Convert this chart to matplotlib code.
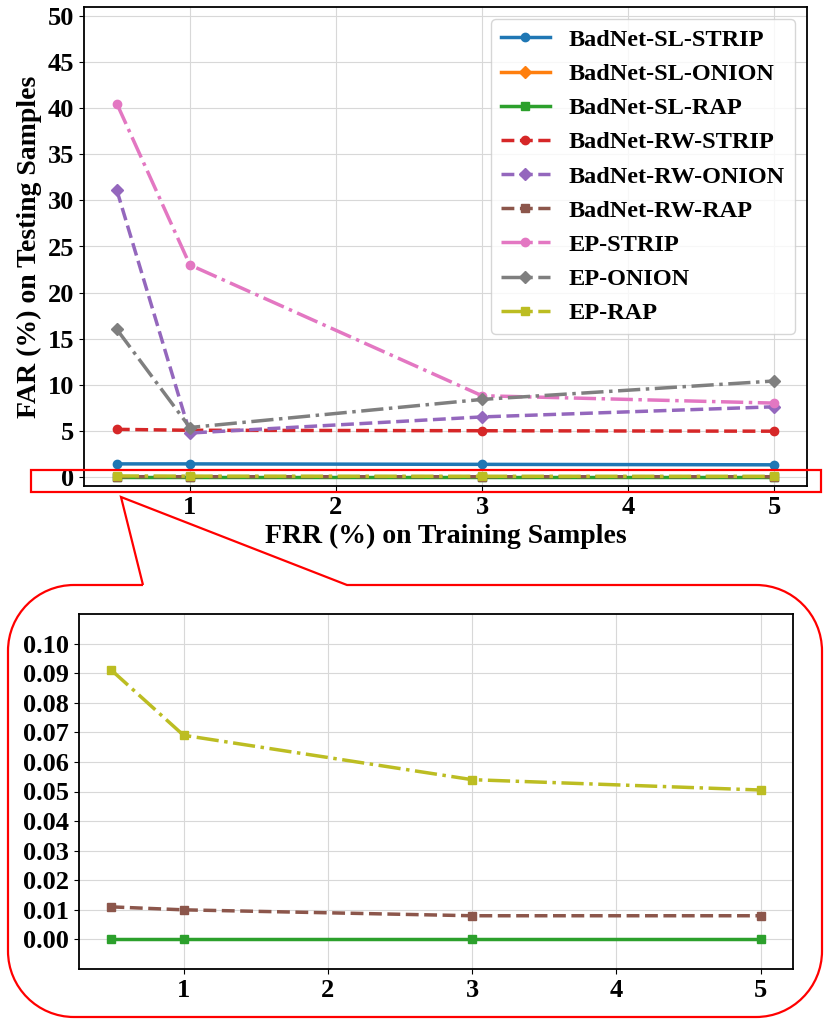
import numpy as np
import matplotlib.pyplot as plt
from matplotlib.path import Path
from matplotlib.patches import PathPatch, Rectangle

plt.rcParams['font.family'] = ['Liberation Serif', 'DejaVu Serif']
plt.rcParams['font.weight'] = 'bold'
plt.rcParams['axes.labelweight'] = 'bold'

# FRR (%) on training samples
frr = [0.5, 1, 3, 5]

# FAR (%) on testing samples
sl_strip = [1.4, 1.4, 1.35, 1.3]
sl_onion = [np.nan, np.nan, np.nan, np.nan]
sl_rap = [0.0, 0.0, 0.0, 0.0]
rw_strip = [5.15, 5.05, 5.0, 4.95]
rw_onion = [31.1, 4.75, 6.5, 7.6]
rw_rap = [0.011, 0.010, 0.008, 0.008]
ep_strip = [40.5, 23.0, 8.8, 8.0]
ep_onion = [16.0, 5.35, 8.4, 10.4]
ep_rap = [0.091, 0.069, 0.054, 0.0505]

series = [
    ('BadNet-SL-STRIP', sl_strip, 'C0', 'o', '-'),
    ('BadNet-SL-ONION', sl_onion, 'C1', 'D', '-'),
    ('BadNet-SL-RAP', sl_rap, 'C2', 's', '-'),
    ('BadNet-RW-STRIP', rw_strip, 'C3', 'o', '--'),
    ('BadNet-RW-ONION', rw_onion, 'C4', 'D', '--'),
    ('BadNet-RW-RAP', rw_rap, 'C5', 's', '--'),
    ('EP-STRIP', ep_strip, 'C6', 'o', '-.'),
    ('EP-ONION', ep_onion, 'C7', 'D', '-.'),
    ('EP-RAP', ep_rap, 'C8', 's', '-.'),
]
zoomed = ['BadNet-SL-RAP', 'BadNet-RW-RAP', 'EP-RAP']

W, H = 830, 1026
fig = plt.figure(figsize=(W / 100, H / 100), dpi=100)


def px_axes(l, t, r, b):
    return fig.add_axes([l / W, 1 - b / H, (r - l) / W, (b - t) / H])


ax = px_axes(84, 7, 807, 486)
for name, vals, c, m, ls in series:
    ax.plot(frr, vals, color=c, marker=m, linestyle=ls, linewidth=2.5,
            markersize=6, label=name)
ax.set_ylim(-1, 51)
ax.set_yticks(np.arange(0, 51, 5))
ax.set_xlabel('FRR (%) on Training Samples', fontsize=20)
ax.set_ylabel('FAR (%) on Testing Samples', fontsize=20)
ax.tick_params(labelsize=19)
ax.grid(True, color='#d8d8d8', linewidth=0.8)
ax.legend(loc='upper right', fontsize=17.5)

ax2 = px_axes(79, 614, 793, 969)
for name, vals, c, m, ls in series:
    if name in zoomed:
        ax2.plot(frr, vals, color=c, marker=m, linestyle=ls, linewidth=2.5,
                 markersize=6)
ax2.set_ylim(-0.01, 0.11)
ax2.set_yticks(np.arange(0, 0.101, 0.01))
ax2.set_yticklabels(['%.2f' % v for v in np.arange(0, 0.101, 0.01)])
ax2.tick_params(labelsize=19)
ax2.grid(True, color='#d8d8d8', linewidth=0.8)

for a in (ax, ax2):
    for s in a.spines.values():
        s.set_linewidth(1.3)


def fp(x, y):
    return (x / W, 1 - y / H)


# red box around the zero line of the main plot
fig.add_artist(Rectangle(fp(31, 492), 790 / W, 22 / H, fill=False,
                         edgecolor='red', linewidth=1.6,
                         transform=fig.transFigure))

# callout bubble around the zoomed plot
L, R, T, B, r = 8, 822, 585, 1017, 66
k = 0.5523 * r
pts = [(143, T), (121, 497), (347, T), (R - r, T),
       (R - r + k, T), (R, T + r - k), (R, T + r),
       (R, B - r),
       (R, B - r + k), (R - r + k, B), (R - r, B),
       (L + r, B),
       (L + r - k, B), (L, B - r + k), (L, B - r),
       (L, T + r),
       (L, T + r - k), (L + r - k, T), (L + r, T),
       (143, T)]
codes = [Path.MOVETO, Path.LINETO, Path.LINETO, Path.LINETO,
         Path.CURVE4, Path.CURVE4, Path.CURVE4,
         Path.LINETO,
         Path.CURVE4, Path.CURVE4, Path.CURVE4,
         Path.LINETO,
         Path.CURVE4, Path.CURVE4, Path.CURVE4,
         Path.LINETO,
         Path.CURVE4, Path.CURVE4, Path.CURVE4,
         Path.LINETO]
bubble = Path([fp(x, y) for x, y in pts], codes)
fig.add_artist(PathPatch(bubble, fill=False, edgecolor='red', linewidth=1.6,
                         transform=fig.transFigure))

fig.savefig('out.png', dpi=100)
